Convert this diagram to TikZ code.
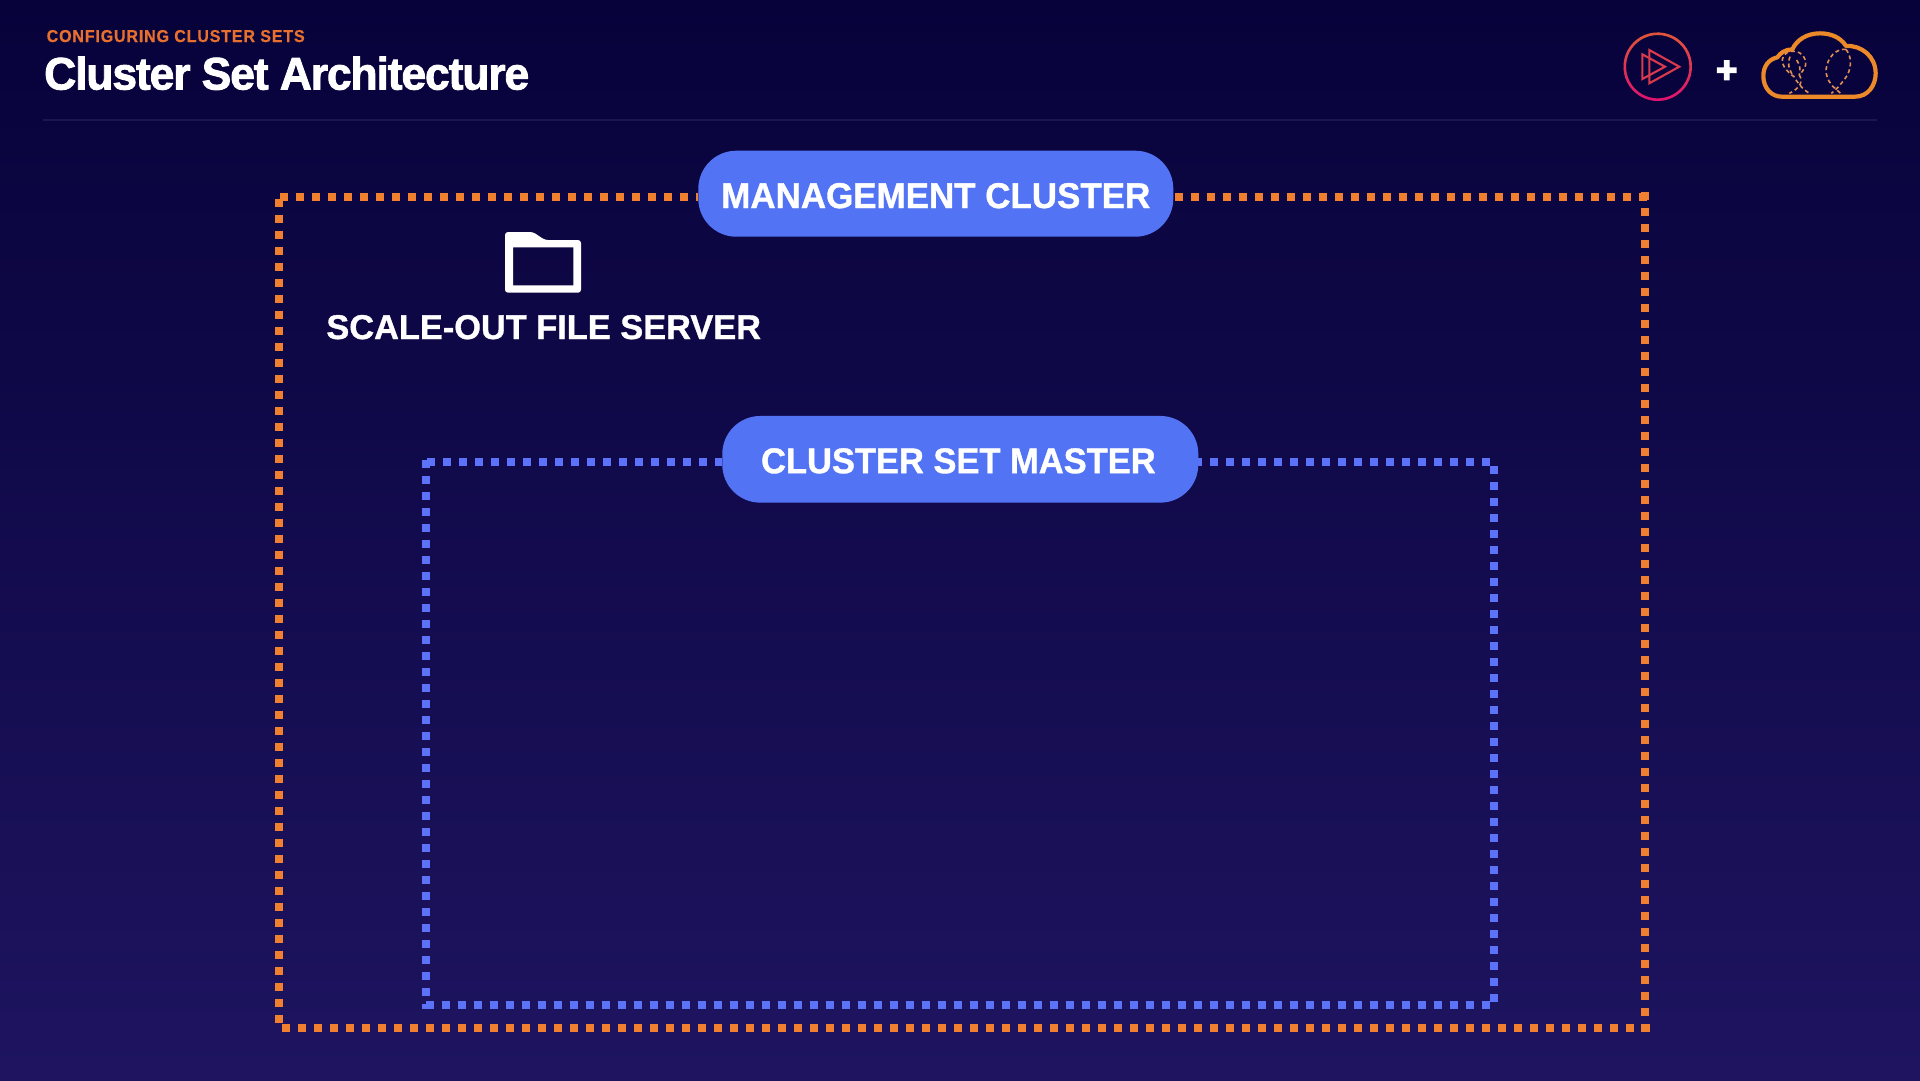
\documentclass[tikz,border=0pt]{standalone}
\usepackage{fontspec}
\usepackage{graphicx}
\setmainfont{Liberation Sans}[BoldFont={Liberation Sans Bold}]
\newfontface\titlefont{Liberation Sans Bold}[FakeBold=1.9,LetterSpace=-2.5]
\newfontface\plusfont{Liberation Sans Bold}[FakeBold=5]
\newfontface\kickerfont{Liberation Sans Bold}[LetterSpace=5,FakeBold=0.5]
\newfontface\pillfont{Liberation Sans Bold}[FakeBold=1]
\definecolor{bgtop}{HTML}{07023A}
\definecolor{bgmid}{HTML}{150A4A}
\definecolor{bgbot}{HTML}{1E1460}
\definecolor{framebg}{HTML}{1E1450}
\definecolor{orangeframe}{HTML}{F08030}
\definecolor{blueframe}{HTML}{5C72F8}
\definecolor{pillblue}{HTML}{5373F5}
\definecolor{kicker}{HTML}{E8702F}
\definecolor{ringtop}{HTML}{E2553A}
\definecolor{ringbot}{HTML}{E0146E}
\definecolor{playred}{HTML}{D93A4C}
\definecolor{cloudorange}{HTML}{EC8A2A}
\definecolor{balloon}{HTML}{E08F55}
\tikzset{
  pill/.style={fill=pillblue,rounded corners=38pt,inner sep=0pt,text=white,font=\pillfont},
  label/.style={inner sep=0pt,text=white,anchor=base west},
  orangedash/.style={draw=orangeframe,line width=8pt,dash pattern=on 8pt off 8pt,line cap=butt},
  bluedash/.style={draw=blueframe,line width=8pt,dash pattern=on 8pt off 8pt,line cap=butt},
  cloudline/.style={draw=cloudorange,line width=4.2pt,line join=round},
  balloonline/.style={draw=balloon,line width=1.6pt,dash pattern=on 4pt off 3pt},
  playline/.style={draw=playred,line width=2.1pt,line join=miter}
}
\begin{document}
\begin{tikzpicture}[x=1pt,y=-1pt]
\useasboundingbox (0,0) rectangle (1920,1080);
\shade[top color=bgtop,middle color=bgmid,bottom color=bgbot] (0,0) rectangle (1920,1080);

% header
\node[label,text=kicker] (kick) at (46.5,42) {\resizebox{258pt}{12pt}{\kickerfont CONFIGURING CLUSTER SETS}};
\node[label] (title) at (44,89.5) {\resizebox{485pt}{33pt}{\titlefont Cluster Set Architecture}};
\draw[framebg,line width=2.4pt] (43,120) -- (1877,120);

% reference anchors for the pills; the frames run under them
\path (935.8,193.7) node[minimum width=475pt,minimum height=86pt,inner sep=0pt] (mgmtref) {};
\path (960.3,459.3) node[minimum width=476pt,minimum height=86.7pt,inner sep=0pt] (masterref) {};

% orange frame
\draw[orangedash] (280,197) -- (mgmtref.west |- 0,197);
\draw[orangedash] (1175,197) -- (1649,197);
\draw[orangedash] (1645.3,192) -- (1645.3,1032);
\draw[orangedash] (279.3,199) -- (279.3,1024);
\draw[orangedash] (282,1028) -- (1650,1028);

% blue frame
\draw[bluedash] (426.7,462) -- (masterref.west |- 0,462);
\draw[bluedash] (1194,462) -- (1490,462);
\draw[bluedash] (1494,466) -- (1494,1002);
\draw[bluedash] (426,460) -- (426,1009);
\draw[bluedash] (425.7,1005) -- (1489.7,1005);

% pills
\node[pill,minimum width=475pt,minimum height=86pt,text height=28.6pt,text depth=0pt] (mgmt) at (935.8,193.7)
  {\resizebox{429pt}{25pt}{MANAGEMENT CLUSTER}};
\node[pill,minimum width=476pt,minimum height=86.7pt,text height=27.8pt,text depth=0pt] (master) at (960.3,459.3)
  {\hbox{\resizebox{394.5pt}{25pt}{CLUSTER SET MASTER}\kern3.8pt}};

% folder
\fill[white,rounded corners=3pt,even odd rule]
  (505,292.7) -- (505,232) -- (533,232) -- (545,240) -- (581,240) -- (581,292.7) -- cycle
  (513,247.3) [sharp corners] -- (573.3,247.3) -- (573.3,285.3) -- (513,285.3) -- cycle;
\node[label] (sofs) at (326.2,339) {\resizebox{434.5pt}{24pt}{\pillfont SCALE-OUT FILE SERVER}};

% play icon ring
\foreach \a in {0,8,...,352}{
  \pgfmathsetmacro\p{50+50*sin(\a+4)}
  \colorlet{ringc}{ringbot!\p!ringtop}
  \draw[ringc,line width=2.6pt] ({1657.7+33*cos(\a)},{66.7+33*sin(\a)}) -- ({1657.7+33*cos(\a+8.6)},{66.7+33*sin(\a+8.6)});
}
\draw[playline] (1649.3,50) -- (1679.3,66.7) -- (1649.3,83.3) -- cycle;
\draw[playline] (1642.3,54.3) -- (1665,66.7) -- (1642.3,79) -- cycle;

\node[inner sep=0pt,text=white,font=\plusfont\fontsize{36}{36}\selectfont] (plus) at (1726.7,71.7) {+};

% cloud: coordinates are in 3x crop units of origin (1590,10)
\begin{scope}[x=0.33333pt,y=-0.33333pt,shift={(1590pt,-10pt)}]
\draw[cloudline] (575,260) -- (795,260)
  .. controls (835,260) and (857,225) .. (857,190)
  .. controls (857,140) and (815,105) .. (768,108)
  .. controls (750,80) and (720,70) .. (690,70)
  .. controls (650,70) and (620,90) .. (607,118)
  .. controls (585,118) and (570,130) .. (562,142)
  .. controls (535,148) and (520,170) .. (520,198)
  .. controls (520,235) and (545,260) .. (575,260) -- cycle;
\draw[balloonline] (655,248) .. controls (635,235) and (620,215) .. (612,200)
  .. controls (590,185) and (575,165) .. (577,148)
  .. controls (580,128) and (600,122) .. (615,124)
  .. controls (635,126) and (650,145) .. (647,165)
  .. controls (642,180) and (632,190) .. (628,195)
  .. controls (640,215) and (630,235) .. (598,250);
\draw[balloonline] (600,140) .. controls (590,165) and (600,185) .. (612,200);
\draw[balloonline] (620,150) .. controls (630,165) and (632,180) .. (628,195);
\draw[balloonline] (768,118) .. controls (740,115) and (712,140) .. (708,180)
  .. controls (708,205) and (722,225) .. (738,238) -- (752,250);
\draw[balloonline] (768,118) .. controls (785,140) and (785,170) .. (772,195)
  .. controls (760,215) and (745,230) .. (738,238) -- (724,250);
\end{scope}
\end{tikzpicture}
\end{document}
